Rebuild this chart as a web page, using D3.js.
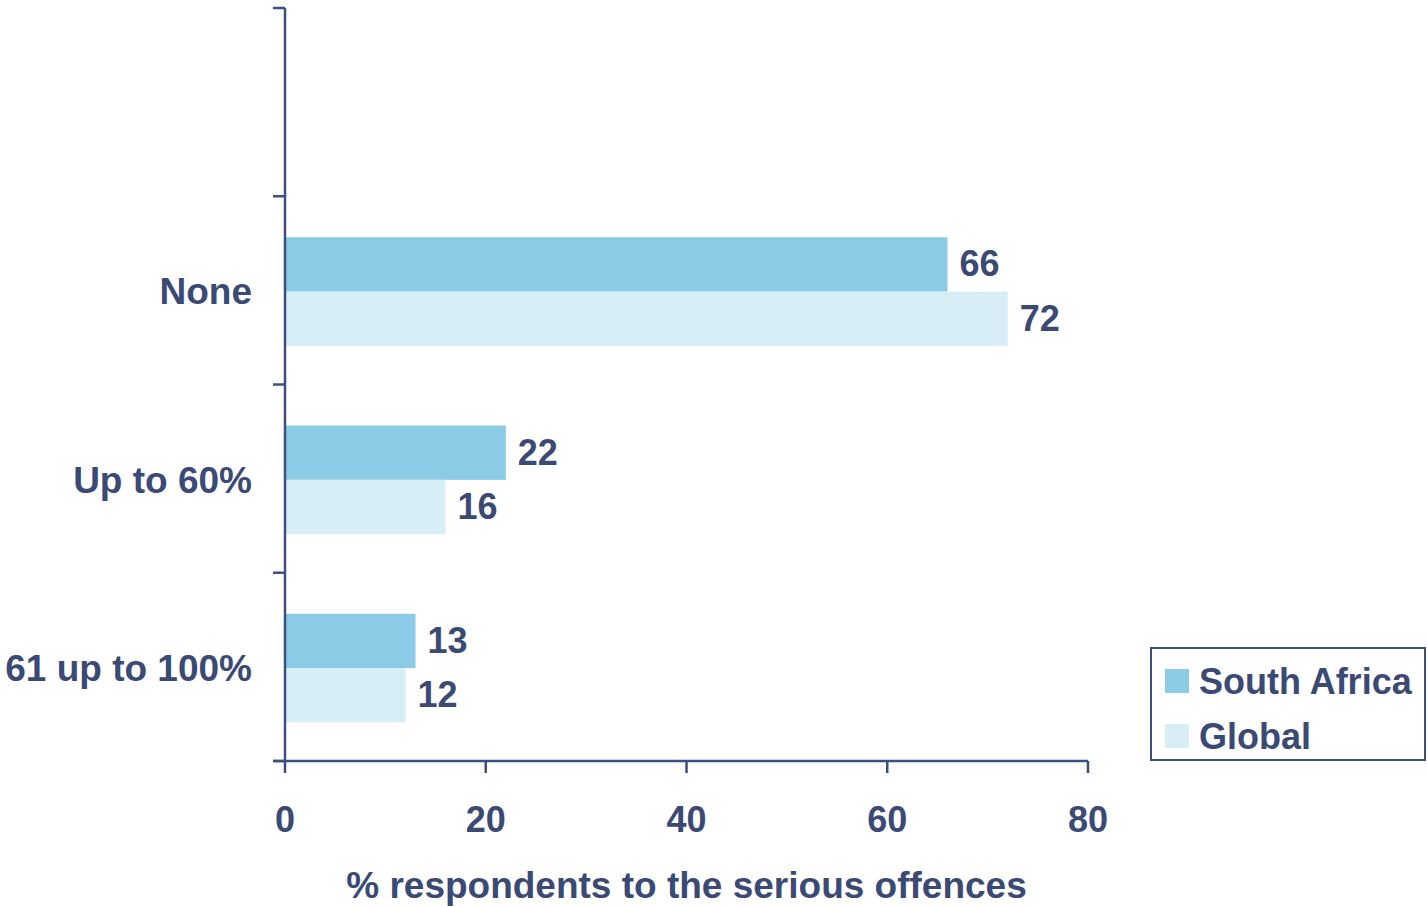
<!DOCTYPE html>
<html><head><meta charset="utf-8">
<script src="https://cdn.jsdelivr.net/npm/d3@7"></script>
<style>body{margin:0;background:#fff}svg{display:block}text{font-family:"Liberation Sans",Arial,sans-serif;font-weight:bold;fill:#3B4A74}</style>
</head><body><svg id="c" width="1427" height="907"></svg>
<script>
const categories = ["", "None", "Up to 60%", "61 up to 100%"];
const seriesNames = ["South Africa", "Global"];
const southAfrica = [null, 66, 22, 13];
const global = [null, 72, 16, 12];
const xTicks = [0, 20, 40, 60, 80];
const colors = ["#8BCBE5", "#D7EEF6"];
const axisColor = "#3D4F7C";

const svg = d3.select("#c");
const x = d3.scaleLinear().domain([0, 80]).range([285, 1088]);
const y = d3.scaleBand().domain(categories).range([8, 761]).padding(0);
const bw = y.bandwidth();
const inner = d3.scaleBand().domain(seriesNames).range([0.218 * bw, 0.795 * bw]).padding(0);
const values = [southAfrica, global];

// bars
seriesNames.forEach((s, si) => {
  const g = svg.append("g");
  categories.forEach((c, ci) => {
    const v = values[si][ci];
    if (v == null) return;
    g.append("rect").attr("x", x(0)).attr("y", y(c) + inner(s))
      .attr("width", x(v) - x(0)).attr("height", inner.bandwidth()).attr("fill", colors[si]);
    g.append("text").attr("x", x(v) + 12).attr("y", y(c) + inner(s) + inner.bandwidth() / 2 + 12)
      .attr("font-size", 36).text(v);
  });
});

// y axis
svg.append("line").attr("x1", x(0)).attr("x2", x(0)).attr("y1", 8).attr("y2", 761)
  .attr("stroke", axisColor).attr("stroke-width", 2.5);
const bounds = categories.map(c => y(c)).concat([y.range()[1]]);
bounds.forEach(b => svg.append("line").attr("x1", 273).attr("x2", x(0)).attr("y1", b).attr("y2", b)
  .attr("stroke", axisColor).attr("stroke-width", 2.5));
categories.forEach(c => {
  if (!c) return;
  svg.append("text").attr("x", 252).attr("y", y(c) + bw / 2 + 14).attr("text-anchor", "end")
    .attr("font-size", 37).text(c);
});

// x axis
svg.append("line").attr("x1", 273).attr("x2", x(80)).attr("y1", 761).attr("y2", 761)
  .attr("stroke", axisColor).attr("stroke-width", 2.5);
xTicks.forEach(t => {
  svg.append("line").attr("x1", x(t)).attr("x2", x(t)).attr("y1", 761).attr("y2", 773)
    .attr("stroke", axisColor).attr("stroke-width", 2.5);
  svg.append("text").attr("x", x(t)).attr("y", 832).attr("text-anchor", "middle")
    .attr("font-size", 36).text(t);
});
svg.append("text").attr("x", (x(0) + x(80)) / 2).attr("y", 898).attr("text-anchor", "middle")
  .attr("font-size", 37).text("% respondents to the serious offences");

// legend
const lg = svg.append("g");
lg.append("rect").attr("x", 1151).attr("y", 648).attr("width", 274).attr("height", 112)
  .attr("fill", "none").attr("stroke", axisColor).attr("stroke-width", 2);
seriesNames.forEach((s, i) => {
  lg.append("rect").attr("x", 1165).attr("y", 669 + i * 55).attr("width", 24).attr("height", 24).attr("fill", colors[i]);
  lg.append("text").attr("x", 1199).attr("y", 694 + i * 55).attr("font-size", 36).text(s);
});
</script></body></html>
